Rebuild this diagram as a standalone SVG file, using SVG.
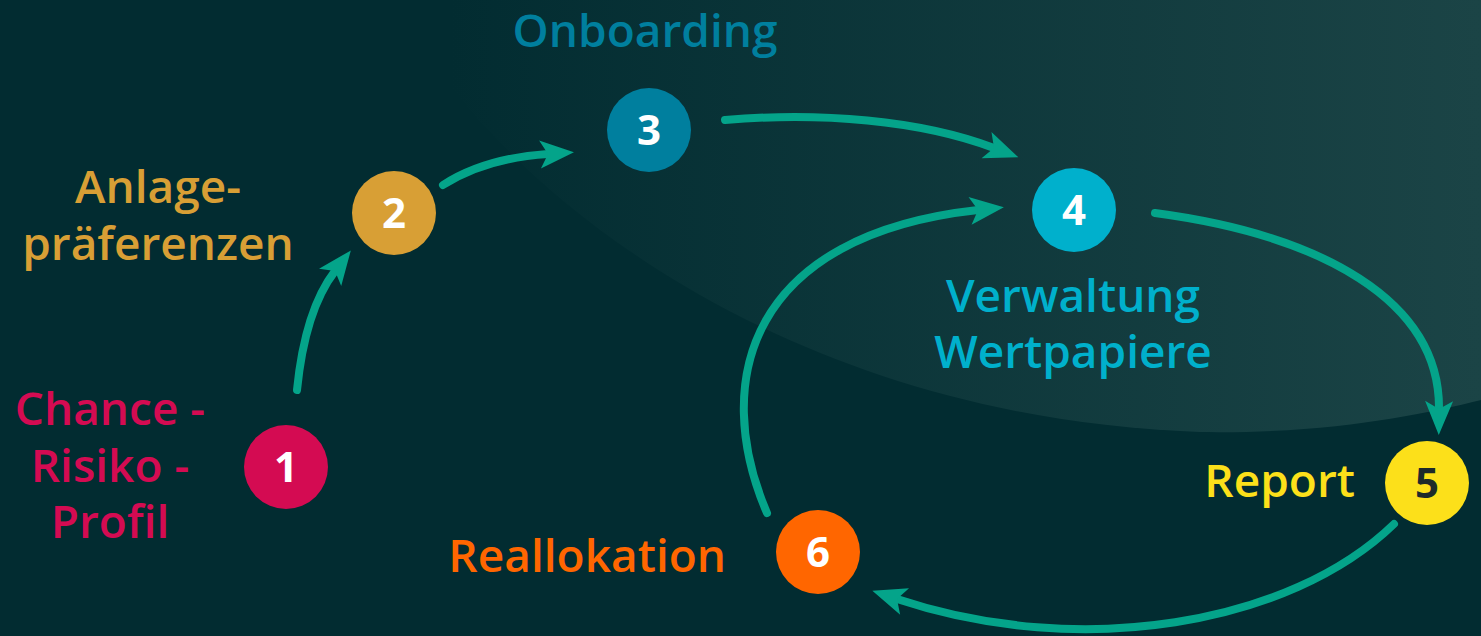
<svg xmlns="http://www.w3.org/2000/svg" width="1481" height="636" viewBox="0 0 1481 636">
<style>
.lbl{font-family:"Open Sans","Liberation Sans",sans-serif;font-size:46px;font-weight:600}
.num{font-family:"Open Sans","Liberation Sans",sans-serif;font-size:42px;font-weight:700;text-anchor:middle;fill:#ffffff}
.conn{fill:none;stroke:#04A48A;stroke-width:8;stroke-linecap:round}
</style>
<defs>
<linearGradient id="bgl" x1="450" y1="0" x2="1481" y2="0" gradientUnits="userSpaceOnUse">
<stop offset="0" stop-color="#022C31"/>
<stop offset="1" stop-color="#1B4446"/>
</linearGradient>
<marker id="ah" markerUnits="userSpaceOnUse" markerWidth="40" markerHeight="34" viewBox="-10 -17 40 34" refX="0" refY="0" orient="auto">
<path d="M-8,-14 L26,0 L-8,14 L0,0 Z" fill="#04A48A"/>
</marker>
</defs>
<rect x="0" y="0" width="1481" height="636" fill="#022C31"/>
<path d="M380,0 L470,110 C600,260 850,420 1200,432 C1330,434 1420,415 1481,400 L1481,0 Z" fill="url(#bgl)"/>
<g id="connectors">
<path class="conn" d="M297,390 Q305,310 335,271" marker-end="url(#ah)"/>
<path class="conn" d="M443,185 Q485,158 548,154" marker-end="url(#ah)"/>
<path class="conn" d="M725,120 C820,112 920,120 994,148" marker-end="url(#ah)"/>
<path class="conn" d="M1155,213 C1320,235 1440,300 1439,409" marker-end="url(#ah)"/>
<path class="conn" d="M1394,524 C1290,625 1080,660 897,599" marker-end="url(#ah)"/>
<path class="conn" d="M767,513 C710,380 750,235 978,210" marker-end="url(#ah)"/>
</g>
<g id="node1">
<circle cx="286" cy="467" r="42" fill="#D40B52"/>
<text class="num" x="286" y="482">1</text>
<text class="lbl" fill="#D40B52" text-anchor="middle"><tspan x="110" y="425">Chance -</tspan><tspan x="110" y="482">Risiko -</tspan><tspan x="110" y="538">Profil</tspan></text>
</g>
<g id="node2">
<circle cx="394" cy="213" r="42" fill="#D89F35"/>
<text class="num" x="394" y="228">2</text>
<text class="lbl" fill="#D89F35" text-anchor="middle"><tspan x="158" y="203">Anlage-</tspan><tspan x="158" y="260">präferenzen</tspan></text>
</g>
<g id="node3">
<circle cx="649" cy="130" r="42" fill="#007F9E"/>
<text class="num" x="649" y="145">3</text>
<text class="lbl" fill="#007F9E" text-anchor="middle" x="645" y="47">Onboarding</text>
</g>
<g id="node4">
<circle cx="1074" cy="210" r="42" fill="#00B0CC"/>
<text class="num" x="1074" y="225">4</text>
<text class="lbl" fill="#00B0CC" text-anchor="middle"><tspan x="1073" y="312">Verwaltung</tspan><tspan x="1073" y="368">Wertpapiere</tspan></text>
</g>
<g id="node5">
<circle cx="1427" cy="483" r="42" fill="#FCE01A"/>
<text class="num" x="1427" y="498" fill="#1E2A2A" style="fill:#1E2A2A">5</text>
<text class="lbl" fill="#FCE01A" text-anchor="end" x="1355" y="497">Report</text>
</g>
<g id="node6">
<circle cx="818" cy="552" r="42" fill="#FF6600"/>
<text class="num" x="818" y="567">6</text>
<text class="lbl" fill="#FF6600" text-anchor="end" x="726" y="572">Reallokation</text>
</g>
</svg>
